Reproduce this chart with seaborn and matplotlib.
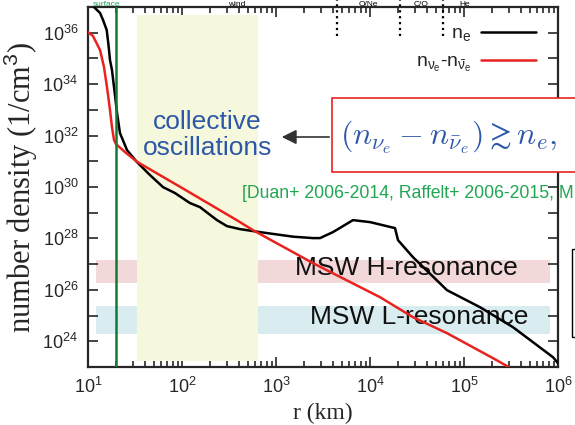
import numpy as np
import matplotlib
matplotlib.use("Agg")
import matplotlib.pyplot as plt
from matplotlib.patches import Rectangle
import seaborn as sns

# electron density n_e (black curve)
r_e = [10.84, 12.16, 13.43, 14.45, 15.81, 16.52, 17.14, 17.99, 19.36, 20.37,
       21.88, 26.0, 33.2, 45.7, 62.8, 84.3, 121.6, 155.2, 235.5, 301,
       414, 676, 1517, 2477, 2938, 4036, 6592, 10000, 18450, 19860,
       28640, 65920, 147900, 331900, 885100, 1000000]
n_e = [1.26e37, 8.36e36, 5.85e36, 3.12e36, 1.27e36, 3.32e35, 8.67e34, 3.54e34, 3.77e33, 7.50e32,
       1.25e32, 2.73e31, 9.31e30, 2.90e30, 9.91e29, 5.80e29, 2.37e29, 1.65e29, 5.15e28, 3.01e28,
       2.30e28, 1.76e28, 1.17e28, 1.03e28, 1.03e28, 1.76e28, 5.15e28, 4.31e28, 2.52e28, 8.59e27,
       1.87e27, 9.72e25, 2.12e25, 3.54e24, 2.40e23, 1.41e23]

# neutrino - antineutrino density (red curve)
r_nu = [10.0, 11.30, 13.43, 14.79, 15.92, 17.14, 17.99, 18.92, 19.86, 24.77,
        33.2, 95.3, 382, 569, 2477, 12760, 28640, 65920, 203700, 301300]
n_nu = [1.06e36, 7.45e35, 2.12e35, 4.62e34, 7.71e33, 9.82e32, 2.14e32, 6.68e31, 4.67e31, 2.28e31,
        9.57e30, 1.02e30, 5.15e28, 2.10e28, 1.09e27, 5.20e25, 8.67e24, 2.07e24, 2.20e23, 9.82e22]

series_labels = [r"n$_\mathregular{e}$", r"n$_{\nu_e}$-n$_{\bar{\nu}_e}$"]

# shaded regions
collective_r = [33, 650]
msw_h_n = [1.9e26, 1.4e27]
msw_l_n = [1.9e24, 2.35e25]
nu_sphere_r = 20
layer_r = [4.47e3, 2.1e4, 6.0e4]
layer_names = ["O/Ne", "C/O", "He"]

xticks = [1e1, 1e2, 1e3, 1e4, 1e5, 1e6]
yticks = [10.0 ** k for k in range(24, 37)]
ytick_labels = [r"$\mathdefault{10^{%d}}$" % k if k % 2 == 0 else "" for k in range(24, 37)]

sns.set_style("ticks")
plt.rcParams["font.family"] = ["Liberation Sans", "DejaVu Sans"]
plt.rcParams["mathtext.fontset"] = "custom"
plt.rcParams["mathtext.rm"] = "Liberation Sans"
plt.rcParams["mathtext.it"] = "Liberation Sans"
plt.rcParams["mathtext.bf"] = "Liberation Sans:bold"

W, H = 575, 425
fig, ax = plt.subplots(figsize=(5.75, 4.25), dpi=100)
fig.subplots_adjust(left=88 / W, right=558 / W, bottom=1 - 367 / H, top=1 - 7 / H)

ax.set_xscale("log")
ax.set_yscale("log")
ax.set_xlim(1e1, 1e6)
ax.set_ylim(1e23, 1e37)

# background bands
ax.axhspan(msw_h_n[0], msw_h_n[1], xmin=0.017, xmax=0.983, color="#f3d8da", lw=0, zorder=0)
ax.axhspan(msw_l_n[0], msw_l_n[1], xmin=0.017, xmax=0.983, color="#d9edf1", lw=0, zorder=0)
ax.axvspan(collective_r[0], collective_r[1], ymin=0.017, ymax=0.978, color="#f5f8dc", lw=0, zorder=1)

ax.text(2.45e4, 7.0e26, "MSW H-resonance", fontsize=19, ha="center", va="center", color="#111111", zorder=2)
ax.text(3.3e4, 8.7e24, "MSW L-resonance", fontsize=19, ha="center", va="center", color="#111111", zorder=2)

sns.lineplot(x=r_e, y=n_e, ax=ax, color="black", lw=1.8, sort=False, estimator=None,
             label=series_labels[0], zorder=4)
sns.lineplot(x=r_nu, y=n_nu, ax=ax, color="#e8231f", lw=1.8, sort=False, estimator=None,
             label=series_labels[1], zorder=4)

ax.axvline(nu_sphere_r, color="#137a36", lw=1.8, zorder=5)

# dotted layer boundaries at the top, running above the frame
ax.vlines(layer_r, 7.4e35, 1.9e37, colors="black", linestyles=":", lw=1.6, clip_on=False)

ax.set_xticks(xticks)
ax.set_yticks(yticks)
ax.set_yticklabels(ytick_labels)
ax.yaxis.set_minor_locator(matplotlib.ticker.NullLocator())
ax.tick_params(which="both", direction="in", top=True, right=True, labelsize=13, width=1.2)
ax.tick_params(which="major", length=7)
ax.tick_params(which="minor", length=4)
ax.tick_params(axis="x", pad=7)
ax.tick_params(axis="y", pad=7)
for s in ax.spines.values():
    s.set_linewidth(1.6)

ax.set_xlabel("r (km)", family="Liberation Serif", fontsize=17, labelpad=4)
ax.set_ylabel(r"number density (1/cm$^3$)", family="Liberation Serif", fontsize=22, labelpad=2)

ax.legend(loc="upper right", bbox_to_anchor=(0.969, 0.972), frameon=False, markerfirst=False,
          fontsize=14, handlelength=2.8, handletextpad=0.5, labelspacing=0.5, borderaxespad=0)

ax.text(185, 1.05e32, "collective\noscillations", fontsize=19, color="#2d58a8",
        ha="center", va="center", linespacing=1.12, zorder=6)
ax.text(434, 5.7e29, "[Duan+ 2006-2014, Raffelt+ 2006-2015, M", fontsize=12.7, color="#20a552",
        ha="left", va="center", zorder=6)

# callout box with the condition, cut by the right edge
fig.patches.append(Rectangle((332 / W, 1 - 172 / H), 0.5, 74 / H, transform=fig.transFigure,
                             facecolor="white", edgecolor="#e8231f", lw=1.2, zorder=5))
fig.text(340 / W, 1 - 137 / H, r"$(n_{\nu_e} - n_{\bar{\nu}_e}) \gtrsim n_e,$", math_fontfamily="cm",
         fontsize=23, color="#2d58a8", ha="left", va="center", zorder=6)
fig.patches.append(Rectangle((572 / W, 1 - 337 / H), 0.5, 88 / H, transform=fig.transFigure,
                             facecolor="none", edgecolor="black", lw=1.0, zorder=5))
ax.annotate("", xy=(279, H - 137), xycoords="figure pixels", xytext=(332, H - 137),
            textcoords="figure pixels",
            arrowprops=dict(arrowstyle="-|>", color="#333333", lw=1.2, mutation_scale=22), zorder=6)

# slide headings above the plot, squeezed into the thin top margin
top_y = 1 - 0.5 / H
fig.text(120 / W, top_y, "surface", fontsize=6, color="#20a552", ha="right", va="top")
fig.text(237 / W, top_y, "wind", fontsize=6, color="black", ha="center", va="top")
for xpix, name in zip([368, 421, 465], layer_names):
    fig.text(xpix / W, top_y, name, fontsize=6, color="black", ha="center", va="top")

fig.savefig("out.png", dpi=100)
